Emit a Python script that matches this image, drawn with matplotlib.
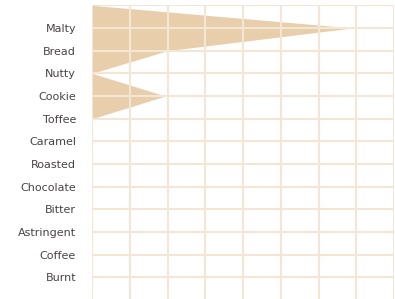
import matplotlib
matplotlib.use("Agg")
import matplotlib.pyplot as plt
import numpy as np

# flavour wheel row, top padding row first (blank label)
categories = ["", "Malty", "Bread", "Nutty", "Cookie", "Toffee", "Caramel",
              "Roasted", "Chocolate", "Bitter", "Astringent", "Coffee", "Burnt"]
scores = [0, 6.9, 2.0, 0, 1.95, 0, 0, 0, 0, 0, 0, 0, 0]
x_ticks = [0, 1, 2, 3, 4, 5, 6, 7, 8]

FILL = "#E8CEAB"
GRID = "#F3E6D4"
TEXT = "#4A4346"

fig = plt.figure(figsize=(3.95, 2.99), dpi=100)
ax = fig.add_axes([92 / 395, 0, 302 / 395, 1 - 5.3 / 299])

pos = np.arange(len(categories))
ax.fill_betweenx(pos, 0, scores, color=FILL, lw=0, zorder=1)

ax.set_xlim(0, 8)
ax.set_ylim(12.95, 0)
ax.set_xticks(x_ticks)
ax.set_yticks(pos)
ax.set_yticklabels(categories, color=TEXT, fontsize=8, family="DejaVu Sans")
ax.tick_params(axis="y", length=0, pad=11.5)
ax.tick_params(axis="x", length=0, labelbottom=False)
ax.grid(True, color=GRID, lw=1.5, zorder=2)
ax.set_axisbelow(False)
for s in ax.spines.values():
    s.set_visible(False)

fig.savefig("out.png", dpi=100)
